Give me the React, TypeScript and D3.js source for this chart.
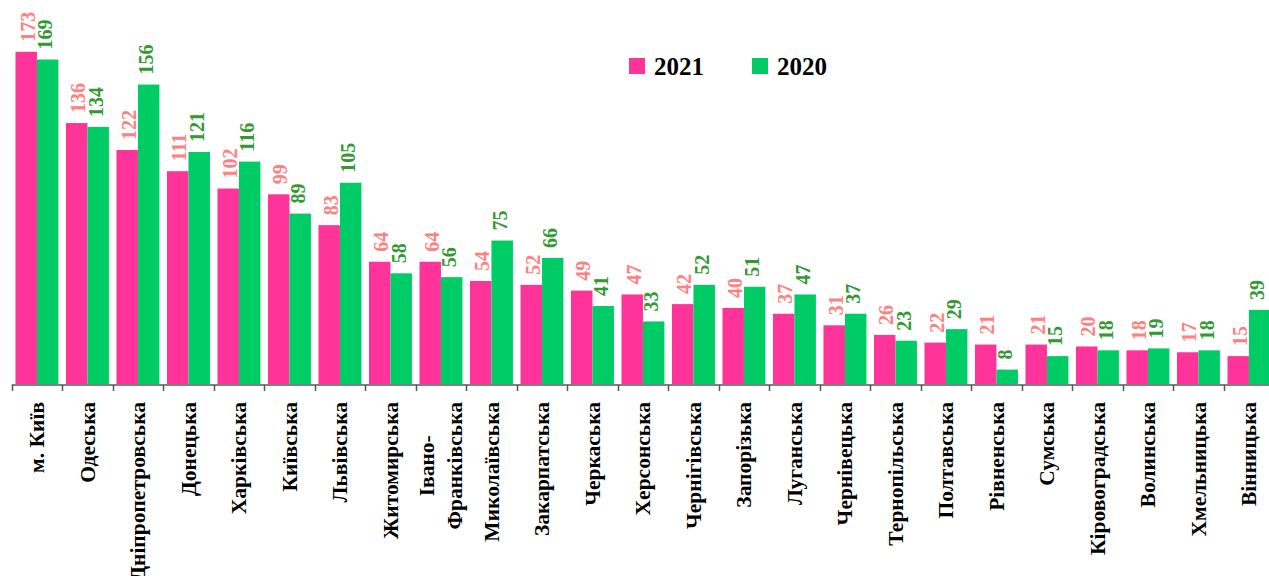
import React, { useEffect, useRef } from "react";
import * as d3 from "d3";

const categories = [
  "м. Київ", "Одеська", "Дніпропетровська", "Донецька", "Харківська", "Київська",
  "Львівська", "Житомирська", "Івано-\nФранківська", "Миколаївська", "Закарпатська",
  "Черкаська", "Херсонська", "Чернігівська", "Запорізька", "Луганська", "Чернівецька",
  "Тернопільська", "Полтавська", "Рівненська", "Сумська", "Кіровоградська", "Волинська",
  "Хмельницька", "Вінницька",
];
const values2021 = [173, 136, 122, 111, 102, 99, 83, 64, 64, 54, 52, 49, 47, 42, 40, 37, 31, 26, 22, 21, 21, 20, 18, 17, 15];
const values2020 = [169, 134, 156, 121, 116, 89, 105, 58, 56, 75, 66, 41, 33, 52, 51, 47, 37, 23, 29, 8, 15, 18, 19, 18, 39];
const seriesNames = ["2021", "2020"];

const W = 1269;
const H = 576;
const FONT = "'Liberation Serif', 'Times New Roman', serif";

export default function App() {
  const ref = useRef<SVGSVGElement | null>(null);

  useEffect(() => {
    document.body.style.margin = "0";
    const svg = d3.select(ref.current);
    svg.selectAll("*").remove();

    const x0 = 11.7;
    const step = 50.5;
    const baseY = 385;
    const x = d3.scaleBand<string>()
      .domain(categories)
      .range([x0, x0 + step * categories.length])
      .paddingInner(0.15)
      .paddingOuter(0.075);
    const xs = d3.scaleBand<string>().domain(seriesNames).range([0, x.bandwidth()]);
    const y = d3.scaleLinear().domain([0, 200]).range([baseY, baseY - 200 * 1.926]);

    const series = [
      { name: "2021", values: values2021, fill: "#FF3399", label: "#FF8080", shift: 1.5 },
      { name: "2020", values: values2020, fill: "#00CC66", label: "#339933", shift: -2 },
    ];

    const g = svg.append("g");
    series.forEach((s) => {
      categories.forEach((c, i) => {
        const bx = (x(c) as number) + (xs(s.name) as number);
        const v = s.values[i];
        g.append("rect")
          .attr("x", bx)
          .attr("y", y(v))
          .attr("width", xs.bandwidth())
          .attr("height", baseY - y(v))
          .attr("fill", s.fill);
      });
    });

    // axis
    g.append("line")
      .attr("x1", x0).attr("x2", W)
      .attr("y1", baseY).attr("y2", baseY)
      .attr("stroke", "#7f7f7f").attr("stroke-width", 2);
    for (let i = 0; i <= categories.length; i++) {
      const tx = Math.round(x0 + i * step) + 0.5;
      g.append("line")
        .attr("x1", tx).attr("x2", tx)
        .attr("y1", baseY).attr("y2", baseY + 6)
        .attr("stroke", "#555").attr("stroke-width", 1.5);
    }

    // value labels
    series.forEach((s) => {
      categories.forEach((c, i) => {
        const cx = (x(c) as number) + (xs(s.name) as number) + xs.bandwidth() / 2 + s.shift;
        const v = s.values[i];
        g.append("text")
          .attr("transform", `translate(${cx},${y(v) - 10}) rotate(-90)`)
          .attr("dy", "0.34em")
          .attr("text-anchor", "start")
          .attr("font-family", FONT)
          .attr("font-weight", "bold")
          .attr("font-size", 20)
          .attr("fill", s.label)
          .text(String(v));
      });
    });

    // category labels
    categories.forEach((c) => {
      const cx = (x(c) as number) + x.bandwidth() / 2;
      const lines = c.split("\n");
      const lineH = 28;
      const t = g.append("g").attr("transform", `translate(${cx},402) rotate(-90)`);
      if (lines.length === 1) {
        t.append("text")
          .attr("dy", "0.34em")
          .attr("text-anchor", "end")
          .attr("font-family", FONT)
          .attr("font-weight", "bold")
          .attr("font-size", 21.5)
          .attr("fill", "#000")
          .text(c);
      } else {
        const texts = lines.map((ln, j) =>
          t.append("text")
            .attr("y", (j - (lines.length - 1) / 2) * lineH)
            .attr("dy", "0.34em")
            .attr("font-family", FONT)
            .attr("font-weight", "bold")
            .attr("font-size", 21.5)
            .attr("fill", "#000")
            .text(ln)
        );
        const maxLen = d3.max(texts, (tt) => (tt.node() as SVGTextElement).getComputedTextLength()) || 0;
        texts.forEach((tt) => tt.attr("text-anchor", "middle").attr("x", -maxLen / 2));
      }
    });

    // legend
    const legend = [
      { name: "2021", fill: "#FF3399", x: 629 },
      { name: "2020", fill: "#00CC66", x: 752 },
    ];
    legend.forEach((l) => {
      svg.append("rect").attr("x", l.x).attr("y", 58).attr("width", 16).attr("height", 16).attr("fill", l.fill);
      svg.append("text")
        .attr("x", l.x + 25).attr("y", 75)
        .attr("font-family", FONT)
        .attr("font-weight", "bold")
        .attr("font-size", 25)
        .attr("fill", "#000")
        .text(l.name);
    });
  }, []);

  return (
    <svg
      ref={ref}
      width={W}
      height={H}
      style={{ position: "absolute", left: 0, top: 0, background: "#fff" }}
    />
  );
}
